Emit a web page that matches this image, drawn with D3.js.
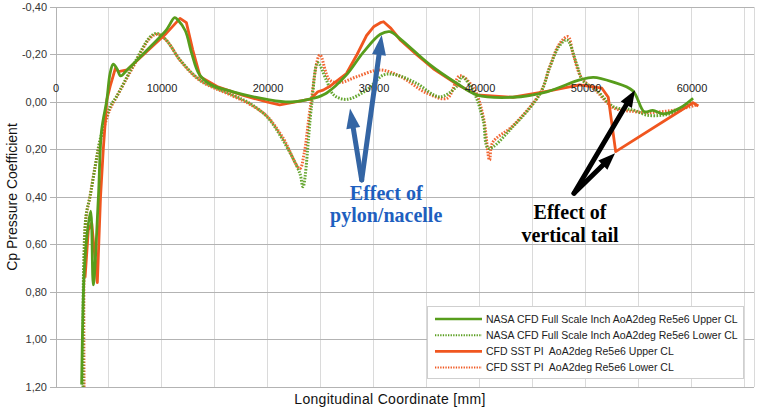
<!DOCTYPE html>
<html><head><meta charset="utf-8">
<script src="https://cdn.jsdelivr.net/npm/d3@7"></script>
<style>html,body{margin:0;padding:0;background:#fff;}svg{display:block;}</style>
</head><body>
<script>
// ---------- data (x in mm, y = Cp) ----------
const nasaUpperX = [2420,2640,2900,3270,3520,4000,4300,4800,5100,5400,5750,6100,6700,8900,10400,11200,11500,12200,12800,13500,14600,16700,19900,22100,24300,25500,27400,29000,30600,31500,32500,35300,37800,39700,43100,46300,49400,50700,52500,54400,55500,56300,57300,58900,60100];
const nasaUpperY = [1.19,0.74,0.57,0.46,0.77,0.40,0.12,-0.01,-0.12,-0.159,-0.14,-0.11,-0.135,-0.233,-0.303,-0.355,-0.345,-0.300,-0.205,-0.118,-0.074,-0.043,-0.011,0.0,-0.016,-0.037,-0.114,-0.21,-0.285,-0.296,-0.265,-0.156,-0.079,-0.03,-0.02,-0.043,-0.093,-0.104,-0.085,-0.048,0.041,0.035,0.05,0.024,-0.016];

const nasaLowerX = [2550,2600,2830,3200,3700,4150,5100,5700,7300,8900,9500,10400,11700,13600,16700,18300,19900,21400,23000,23300,24100,24700,25500,26200,27400,29300,30900,32100,34000,36200,37800,38300,39400,40300,40800,43100,45700,46600,47500,48200,49100,49700,51000,52600,54500,55700,57300,58900,60000];
const nasaLowerY = [1.2,0.71,0.48,0.40,0.27,0.16,0.02,-0.022,-0.156,-0.275,-0.289,-0.261,-0.177,-0.093,-0.029,0.006,0.062,0.16,0.30,0.357,0.02,-0.165,-0.093,-0.03,-0.011,-0.05,-0.114,-0.114,-0.079,-0.022,-0.065,-0.105,-0.043,0.076,0.195,0.104,-0.037,-0.149,-0.237,-0.261,-0.163,-0.09,-0.05,0.02,0.034,0.055,0.055,0.034,-0.008];

const cfdUpperX = [2740,3050,3370,3900,4200,4460,4800,5100,5600,5900,6700,8900,10400,11700,12300,12900,13600,15200,17500,19900,21100,24000,24700,25200,25800,27400,28400,29300,30000,30600,30900,31600,32500,34000,35600,37800,39700,43100,46300,49400,51500,52100,52800,60100,60600];
const cfdUpperY = [0.74,0.54,0.51,0.76,0.40,0.20,-0.01,-0.065,-0.142,-0.128,-0.135,-0.226,-0.289,-0.352,-0.334,-0.22,-0.107,-0.065,-0.03,0.0,0.012,-0.012,-0.043,-0.05,-0.065,-0.12,-0.2,-0.28,-0.318,-0.334,-0.338,-0.31,-0.26,-0.2,-0.14,-0.075,-0.03,-0.02,-0.045,-0.072,-0.058,-0.02,0.209,0.003,0.017];

const cfdLowerX = [2650,2650,2850,3200,3700,4150,5100,5700,7300,8900,9600,10500,11800,13600,16700,18300,19900,21400,23000,23400,24000,24900,25800,26800,28400,30600,32500,35000,36900,38100,39400,40300,40900,41200,43100,45700,46600,47500,48300,48800,49600,51000,52600,54500,55700,57300,58900,60400];
const cfdLowerY = [1.2,0.71,0.48,0.40,0.27,0.17,0.03,-0.02,-0.15,-0.27,-0.285,-0.255,-0.17,-0.09,-0.025,0.01,0.06,0.15,0.28,0.22,0.02,-0.198,-0.093,-0.082,-0.107,-0.135,-0.107,-0.037,-0.016,-0.11,-0.058,0.06,0.244,0.17,0.1,-0.04,-0.15,-0.245,-0.275,-0.2,-0.1,-0.045,0.025,0.04,0.045,0.04,0.03,0.013];

const seriesNames = [
  "NASA CFD Full Scale Inch AoA2deg Re5e6 Upper CL",
  "NASA CFD Full Scale Inch AoA2deg Re5e6 Lower CL",
  "CFD SST PI  AoA2deg Re5e6 Upper CL",
  "CFD SST PI  AoA2deg Re5e6 Lower CL"
];
const yTickValues = [-0.4,-0.2,0,0.2,0.4,0.6,0.8,1.0,1.2];
const xGridValues = [0,5000,10000,15000,20000,25000,30000,35000,40000,45000,50000,55000,60000,65000];
const xLabelValues = [0,10000,20000,30000,40000,50000,60000];
const xDomain = [0, 65850];
const yDomain = [-0.4, 1.2];

// annotations in data coordinates
const pylonText = ["Effect of", "pylon/nacelle"];
const pylonTextPos = [31150, 0.413, 0.505];
const pylonArrowBase = [28840, 0.328];
const pylonArrowTips = [[27740, 0.027],[30730, -0.282]];
const tailText = ["Effect of", "vertical tail"];
const tailTextPos = [48490, 0.494, 0.588];
const tailArrowBase = [48870, 0.384];
const tailArrowTips = [[54620, -0.05],[52740, 0.216]];

// ---------- drawing ----------
const W = 760, H = 411;
const GREEN = "#579d1c", RED = "#f0561f";
const svg = d3.select("body").append("svg").attr("width", W).attr("height", H)
  .style("font-family", "'Liberation Sans', Arial, sans-serif");

const x = d3.scaleLinear().domain(xDomain).range([56, 754]);
const y = d3.scaleLinear().domain(yDomain).range([7, 387]);

// vertical grid
svg.append("g").selectAll("line").data(xGridValues).join("line")
  .attr("x1", d => x(d)).attr("x2", d => x(d))
  .attr("y1", y(yDomain[0])).attr("y2", y(yDomain[1]))
  .attr("stroke", d => d === 0 ? "#b3b3b3" : "#dadada").attr("stroke-width", 1).attr("shape-rendering","crispEdges");
// right border
svg.append("line").attr("x1", x(xDomain[1])).attr("x2", x(xDomain[1]))
  .attr("y1", y(yDomain[0])).attr("y2", y(yDomain[1]))
  .attr("stroke", "#dadada").attr("shape-rendering","crispEdges");
// horizontal grid
svg.append("g").selectAll("line").data(yTickValues).join("line")
  .attr("x1", x(0) - 6).attr("x2", x(xDomain[1]))
  .attr("y1", d => y(d)).attr("y2", d => y(d))
  .attr("stroke", "#b3b3b3").attr("stroke-width", 1).attr("shape-rendering","crispEdges");

// y tick labels
const loc = d3.formatLocale({decimal: ",", thousands: ".", grouping: [3], currency: ["", ""], minus: "-"});
const fy = loc.format(".2f");
svg.append("g").selectAll("text").data(yTickValues).join("text")
  .attr("x", 47).attr("y", d => y(d)).attr("dy", "0.35em")
  .attr("text-anchor", "end").attr("font-size", 11).attr("fill", "#333")
  .text(d => fy(d));

// y title
svg.append("text").attr("transform", `translate(17,${(y(yDomain[0]) + y(yDomain[1])) / 2}) rotate(-90)`)
  .attr("text-anchor", "middle").attr("font-size", 14).attr("fill", "#111")
  .text("Cp Pressure Coefficient");
// x title
svg.append("text").attr("x", 390).attr("y", 404).attr("text-anchor", "middle")
  .attr("font-size", 14).attr("fill", "#111").attr("letter-spacing", "0.3")
  .text("Longitudinal Coordinate [mm]");

// series
const mk = (xs, ys) => xs.map((v, i) => [v, ys[i]]);
const smooth = d3.curveCatmullRom.alpha(0.5);
const series = [
  {data: mk(cfdLowerX, cfdLowerY), color: RED, dotted: true, curve: smooth},
  {data: mk(nasaLowerX, nasaLowerY), color: GREEN, dotted: true, curve: smooth},
  {data: mk(cfdUpperX, cfdUpperY), color: RED, dotted: false, curve: d3.curveLinear},
  {data: mk(nasaUpperX, nasaUpperY), color: GREEN, dotted: false, curve: smooth}
];
series.forEach(s => {
  const line = d3.line().x(d => x(d[0])).y(d => y(d[1])).curve(s.curve);
  svg.append("path").attr("d", line(s.data)).attr("fill", "none")
    .attr("stroke", s.color).attr("stroke-width", s.dotted ? 3 : 2.8)
    .attr("stroke-linejoin", "round")
    .attr("stroke-dasharray", s.dotted ? "1.6 1.4" : null)
    .attr("opacity", s.dotted ? 0.9 : 1);
});

// x tick labels on the zero line
svg.append("g").selectAll("text").data(xLabelValues).join("text")
  .attr("x", d => x(d)).attr("y", 92).attr("text-anchor", "middle")
  .attr("font-size", 11).attr("fill", "#222").text(d => d);

// arrows
function arrow(base, tip, color, width, headLen, headW) {
  const x0 = x(base[0]), y0 = y(base[1]), x1 = x(tip[0]), y1 = y(tip[1]);
  const dx = x1 - x0, dy = y1 - y0, L = Math.hypot(dx, dy);
  const ux = dx / L, uy = dy / L, px = -uy, py = ux;
  const bx = x1 - ux * headLen, by = y1 - uy * headLen;
  svg.append("line").attr("x1", x0).attr("y1", y0).attr("x2", bx + ux * 2).attr("y2", by + uy * 2)
    .attr("stroke", color).attr("stroke-width", width).attr("stroke-linecap", "round");
  svg.append("path").attr("d", `M${x1},${y1}L${bx + px * headW / 2},${by + py * headW / 2}L${bx - px * headW / 2},${by - py * headW / 2}Z`)
    .attr("fill", color);
}
pylonArrowTips.forEach(t => arrow(pylonArrowBase, t, "#3465a4", 5, 20, 14));
tailArrowTips.forEach(t => arrow(tailArrowBase, t, "#000", 5, 17, 13));

// annotation text
function annot(lines, pos, color) {
  lines.forEach((t, i) => {
    svg.append("text").attr("x", x(pos[0])).attr("y", y(pos[1 + i]))
      .attr("text-anchor", "middle").attr("font-family", "'Liberation Serif', 'Times New Roman', serif")
      .attr("font-weight", "bold").attr("font-size", 20).attr("fill", color).text(t);
  });
}
annot(pylonText, pylonTextPos, "#1e5fbf");
annot(tailText, tailTextPos, "#000");

// legend
const lg = svg.append("g");
lg.append("rect").attr("x", 427.5).attr("y", 306.5).attr("width", 316).attr("height", 72)
  .attr("fill", "#fff").attr("stroke", "#cfcfcf");
const legendStyles = [
  {color: GREEN, dotted: false}, {color: GREEN, dotted: true},
  {color: RED, dotted: false}, {color: RED, dotted: true}
];
seriesNames.forEach((n, i) => {
  const yy = 319 + i * 16.2;
  lg.append("line").attr("x1", 435).attr("x2", 482).attr("y1", yy).attr("y2", yy)
    .attr("stroke", legendStyles[i].color).attr("stroke-width", legendStyles[i].dotted ? 2 : 2.6)
    .attr("stroke-dasharray", legendStyles[i].dotted ? "1.3 1.3" : null);
  lg.append("text").attr("x", 486).attr("y", yy).attr("dy", "0.35em")
    .attr("font-size", 10.5).attr("fill", "#222").style("white-space", "pre").text(n);
});
</script>
</body></html>
